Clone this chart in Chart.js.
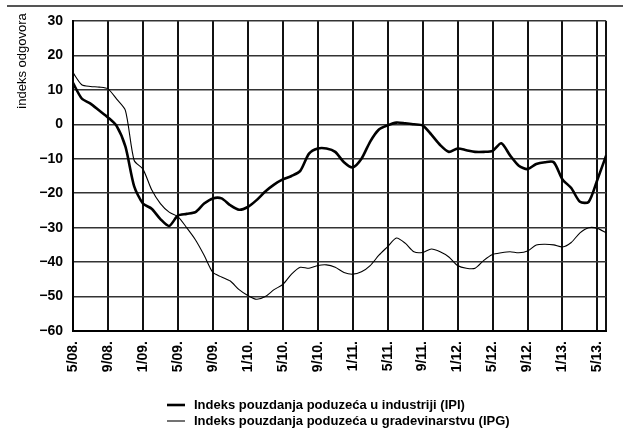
<!DOCTYPE html>
<html><head><meta charset="utf-8">
<script src="https://cdn.jsdelivr.net/npm/chart.js@4.4.0/dist/chart.umd.min.js"></script>
<style>html,body{margin:0;padding:0;background:#fff}#wrap{width:633px;height:441px;position:relative}</style>
</head><body><div id="wrap"><canvas id="c" width="633" height="441"></canvas></div>
<script>
// x tick labels every 4 months starting 5/08 (monthly data index 0 = 5/08)
const tickLabels = ['5/08.','9/08.','1/09.','5/09.','9/09.','1/10.','5/10.','9/10.','1/11.','5/11.','9/11.','1/12.','5/12.','9/12.','1/13.','5/13.'];
// Indeks pouzdanja poduzeća u industriji (IPI), monthly 5/08 .. 6/13
const ipi = [12,7.5,6,4,2,-0.5,-6.5,-18,-23,-24.5,-27.5,-29.5,-26.5,-26,-25.5,-23,
  -21.5,-21.5,-23.5,-24.8,-24,-22,-19.5,-17.5,-16,-15,-13.5,-8.5,-7,-7,-8,-11,
  -12.5,-10,-5,-1.5,-0.3,0.5,0.3,0,-0.3,-3,-6,-8,-7,-7.5,-8,-8,
  -7.7,-5.5,-9,-12,-13,-11.5,-11,-11,-16,-18.5,-22.5,-22.5,-16,-9];
// Indeks pouzdanja poduzeća u građevinarstvu (IPG)
const ipg = [15,11.5,11,10.8,10.3,7.3,4,-10.5,-13,-19,-23,-25.5,-26.8,-30,-33.5,-38,
  -43,-44.3,-45.5,-48,-49.7,-50.8,-50,-48,-46.5,-43.5,-41.5,-41.8,-41,-40.8,-41.5,-43,
  -43.5,-42.8,-41,-38,-35.5,-33,-34.5,-37,-37.2,-36.2,-37,-38.5,-41,-41.8,-41.8,-39.5,
  -37.8,-37.3,-37,-37.3,-36.8,-35,-34.8,-35,-35.6,-34.3,-31.5,-30,-30.2,-31.5];
const seriesNames = ['Indeks pouzdanja poduzeća u industriji (IPI)','Indeks pouzdanja poduzeća u gradevinarstvu (IPG)'];
const yTitle = 'indeks odgovora';

const FONT = "'Liberation Sans', Arial, sans-serif";

const deco = {
  id: 'deco',
  afterDraw(chart) {
    const ctx = chart.ctx;
    ctx.save();
    // top rule
    ctx.strokeStyle = '#555'; ctx.lineWidth = 2;
    ctx.beginPath(); ctx.moveTo(7, 6); ctx.lineTo(623, 6); ctx.stroke();
    // y title
    ctx.fillStyle = '#000';
    ctx.font = '13px ' + FONT;
    ctx.translate(22, 61); ctx.rotate(-Math.PI/2);
    ctx.textAlign = 'center'; ctx.textBaseline = 'middle';
    ctx.fillText(yTitle, 0, 0);
    ctx.restore();
    // legend
    ctx.save();
    const rows = [405, 421];
    const widths = [2.6, 1.1];
    ctx.font = 'bold 13px ' + FONT;
    ctx.fillStyle = '#000'; ctx.textBaseline = 'middle'; ctx.textAlign = 'left';
    rows.forEach((y, k) => {
      ctx.strokeStyle = '#000'; ctx.lineWidth = widths[k];
      ctx.beginPath(); ctx.moveTo(167, y); ctx.lineTo(185, y); ctx.stroke();
      ctx.fillText(seriesNames[k], 194, y);
    });
    ctx.restore();
  }
};

new Chart(document.getElementById('c'), {
  type: 'line',
  data: {
    datasets: [
      { label: seriesNames[0], data: ipi.map((v, i) => ({x: i, y: v})), borderColor: '#000', borderWidth: 2.6, pointRadius: 0, tension: 0.25, fill: false },
      { label: seriesNames[1], data: ipg.map((v, i) => ({x: i, y: v})), borderColor: '#000', borderWidth: 1.1, pointRadius: 0, tension: 0.25, fill: false }
    ]
  },
  options: {
    responsive: false,
    animation: false,
    devicePixelRatio: 1,
    layout: { padding: { top: 21, right: 11, left: 0, bottom: 0 } },
    plugins: { legend: { display: false }, tooltip: { enabled: false } },
    scales: {
      x: {
        type: 'linear', min: 0, max: ipi.length - 1,
        afterBuildTicks(s) {
          const t = tickLabels.map((_, k) => ({ value: k * 4 }));
          t.push({ value: ipi.length - 1 });
          s.ticks = t;
        },
        afterFit(s) { s.height = 110; },
        ticks: {
          autoSkip: false, maxRotation: 90, minRotation: 90, padding: 10, color: '#000',
          font: { family: FONT, size: 14, weight: 'bold' },
          callback: (v) => (v % 4 === 0 && v / 4 < tickLabels.length) ? tickLabels[v / 4] : ''
        },
        grid: { color: '#111', lineWidth: 2, drawTicks: false },
        border: { color: '#000', width: 2 }
      },
      y: {
        min: -60, max: 30,
        afterFit(s) { s.width = 73; },
        ticks: {
          stepSize: 10, padding: 10, color: '#000',
          font: { family: FONT, size: 14, weight: 'bold' },
          callback: (v) => v < 0 ? '\u2212' + Math.abs(v) : String(v)
        },
        grid: { color: '#333', lineWidth: 1.6, drawTicks: false },
        border: { color: '#000', width: 2 }
      }
    }
  },
  plugins: [deco]
});
</script></body></html>
